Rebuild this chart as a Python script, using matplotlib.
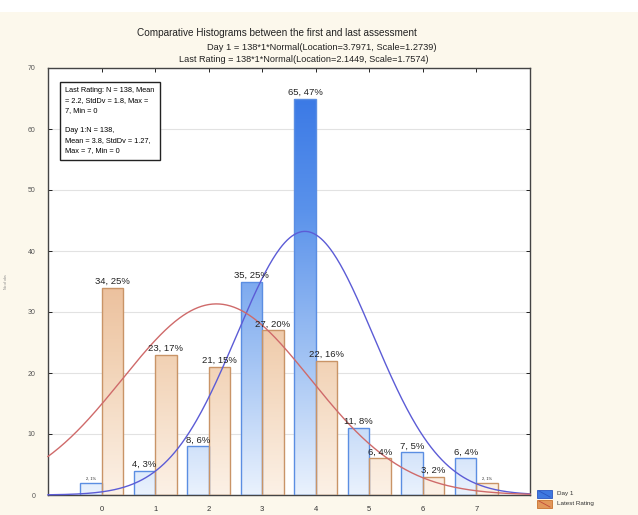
import numpy as np
import matplotlib
matplotlib.use("Agg")
import matplotlib.pyplot as plt
from matplotlib.colors import LinearSegmentedColormap
from matplotlib.patches import Rectangle
from matplotlib.lines import Line2D

plt.rcParams['font.family'] = ['Liberation Sans', 'DejaVu Sans']

# ---- data ----
categories = [0, 1, 2, 3, 4, 5, 6, 7]
day1_counts = [2, 4, 8, 35, 65, 11, 7, 6]
last_counts = [34, 23, 21, 27, 22, 6, 3, 2]
n_total = 138
day1_loc, day1_scale = 3.7971, 1.2739
last_loc, last_scale = 2.1449, 1.7574
ytick_vals = [0, 10, 20, 30, 40, 50, 60, 70]
title1 = "Comparative Histograms between the first and last assessment"
title2 = "Day 1 = 138*1*Normal(Location=3.7971, Scale=1.2739)"
title3 = "Last Rating = 138*1*Normal(Location=2.1449, Scale=1.7574)"
stats_text = ("Last Rating: N = 138, Mean\n= 2.2, StdDv = 1.8, Max =\n7, Min = 0\n\n"
              "Day 1:N = 138,\nMean = 3.8, StdDv = 1.27,\nMax = 7, Min = 0")
legend_labels = ["Day 1", "Latest Rating"]

W, H = 638, 515
fig = plt.figure(figsize=(W / 100, H / 100), dpi=100)
fig.patch.set_facecolor('#fcf8ec')
fig.add_artist(Rectangle((0, 1 - 12 / H), 1, 12 / H, transform=fig.transFigure,
                         facecolor='white', edgecolor='none', zorder=0))

ax = fig.add_axes([48 / W, (H - 495) / H, (530 - 48) / W, (495 - 68) / H])
ax.set_facecolor('white')
XMIN, XMAX, YMAX = -1, 8, 70

blue_cmap = LinearSegmentedColormap.from_list('b', ['#eaf2fd', '#9fc1f3', '#5a92eb', '#3373e4'])
orange_cmap = LinearSegmentedColormap.from_list('o', ['#fcf1e6', '#f1d0b2', '#e6af86', '#dc9a66'])
grad = np.linspace(0, 1, 256).reshape(-1, 1)


def gradient_bars(xs, hs, cmap, edge):
    bars = ax.bar(xs, hs, 0.4, facecolor='none', edgecolor=edge, linewidth=1.0, zorder=3)
    for b in bars:
        x0 = b.get_x()
        im = ax.imshow(grad, cmap=cmap, extent=(x0, x0 + b.get_width(), 0, YMAX),
                       origin='lower', aspect='auto', zorder=2, interpolation='bilinear')
        im.set_clip_path(b)
    return bars


cats = np.array(categories, dtype=float)
b1 = gradient_bars(cats - 0.2, day1_counts, blue_cmap, '#5b8ee2')
b2 = gradient_bars(cats + 0.2, last_counts, orange_cmap, '#c99467')

# fitted normal curves from the stated parameters
xs = np.linspace(XMIN, XMAX, 400)
def normal_curve(loc, scale):
    return n_total * np.exp(-0.5 * ((xs - loc) / scale) ** 2) / (scale * np.sqrt(2 * np.pi))
ax.plot(xs, normal_curve(day1_loc, day1_scale), color='#5c5cd6', lw=1.0, zorder=4, clip_on=False)
ax.plot(xs, normal_curve(last_loc, last_scale), color='#cf6a6a', lw=1.0, zorder=4, clip_on=False)

# bar labels
for bars, counts in ((b1, day1_counts), (b2, last_counts)):
    for b, c in zip(bars, counts):
        pct = round(c / n_total * 100)
        fs = 2.8 if c <= 2 else 6.8
        ax.text(b.get_x() + b.get_width() / 2, c + 0.3, f"{c}, {pct}%", ha='center', va='bottom',
                fontsize=fs, color='#222222', zorder=5)

ax.set_xlim(XMIN, XMAX)
ax.set_ylim(0, YMAX)
ax.set_xticks(categories)
ax.set_xticklabels([str(c) for c in categories], fontsize=5.5, color='#333333')
ax.set_yticks(ytick_vals)
ax.set_yticklabels([str(v) for v in ytick_vals], fontsize=5, color='#555555')
ax.tick_params(axis='x', which='both', top=True, direction='in', length=3, pad=8, width=0.6)
ax.tick_params(axis='y', which='both', right=True, direction='in', length=3, pad=9, width=0.6)
ax.yaxis.grid(True, color='#e2e2e2', lw=0.8)
ax.set_axisbelow(True)
for s in ax.spines.values():
    s.set_color('#444444')
    s.set_linewidth(1.0)
ax.set_ylabel("No of obs", fontsize=2.5, color='#888888', labelpad=14)

ax.text(0.036, 0.955, stats_text, transform=ax.transAxes, ha='left', va='top',
        fontsize=5.3, linespacing=1.6, zorder=6,
        bbox=dict(boxstyle='square,pad=0.75', facecolor='white', edgecolor='#222222', lw=1.0))

fig.text(277 / W, 1 - 33 / H, title1, ha='center', va='center', fontsize=7.2, color='#222222')
fig.text(322 / W, 1 - 47 / H, title2, ha='center', va='center', fontsize=6.7, color='#222222')
fig.text(304 / W, 1 - 60 / H, title3, ha='center', va='center', fontsize=6.6, color='#222222')

# legend outside the plot
leg_items = [(legend_labels[0], '#3f78e0', '#2a55c0', '#2a55c0'),
             (legend_labels[1], '#e2975a', '#c8732e', '#c04a3a')]
for i, (lab, fc, ec, lc) in enumerate(leg_items):
    y0 = 490 + i * 10
    fig.add_artist(Rectangle((537 / W, 1 - (y0 + 8) / H), 15 / W, 8 / H, transform=fig.transFigure,
                             facecolor=fc, edgecolor=ec, lw=0.6))
    fig.add_artist(Line2D([539 / W, 550 / W], [1 - (y0 + 1) / H, 1 - (y0 + 7) / H],
                          transform=fig.transFigure, color=lc, lw=0.6))
    fig.text(557 / W, 1 - (y0 + 4) / H, lab, ha='left', va='center', fontsize=4.5, color='#333333')

fig.savefig("out.png", dpi=100, facecolor=fig.get_facecolor())
